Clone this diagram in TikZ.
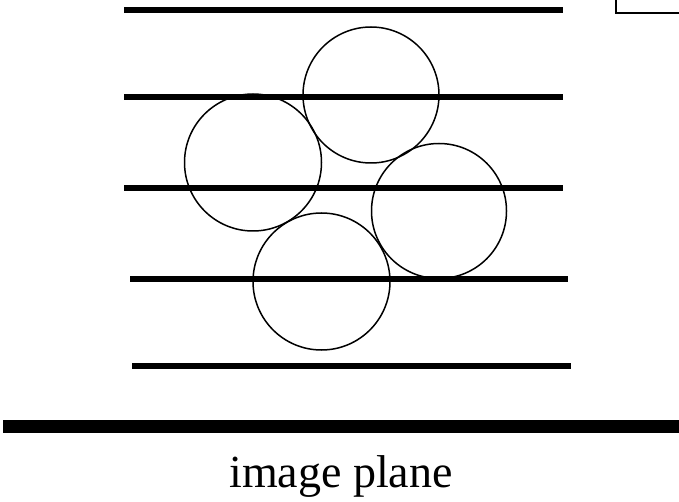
\documentclass[tikz,border=0pt]{standalone}
\usepackage{fontspec}
\setmainfont{Liberation Serif}

\begin{document}
\begin{tikzpicture}[
  x=1pt,y=-1pt,
  layer/.style={line width=6pt},
  plane/.style={line width=13pt},
  grain/.style={line width=1.5pt},
  caption/.style={font=\fontsize{46}{50}\selectfont,anchor=base,inner sep=0pt}
]
\useasboundingbox (0,0) rectangle (679,502);
\clip (0,0) rectangle (679,502);
% frame cut off at the top right
\draw[line width=1.3pt] (616,-20) rectangle (700,13);
% layers
\draw[layer] (124,10)  -- (563,10);
\draw[layer] (124,97)  -- (563,97);
\draw[layer] (124,188) -- (563,188);
\draw[layer] (130,279) -- (568,279);
\draw[layer] (132,366) -- (571,366);
% grains
\draw[grain] (371,95)    circle (68);
\draw[grain] (253,162.5) circle (68.5);
\draw[grain] (439,211)   circle (67.5);
\draw[grain] (321.5,281.5) circle (68.5);
% image plane
\draw[plane] (3,426) -- (679,426);
\node[caption] (lbl) at (341,487) {image plane};
\end{tikzpicture}
\end{document}
